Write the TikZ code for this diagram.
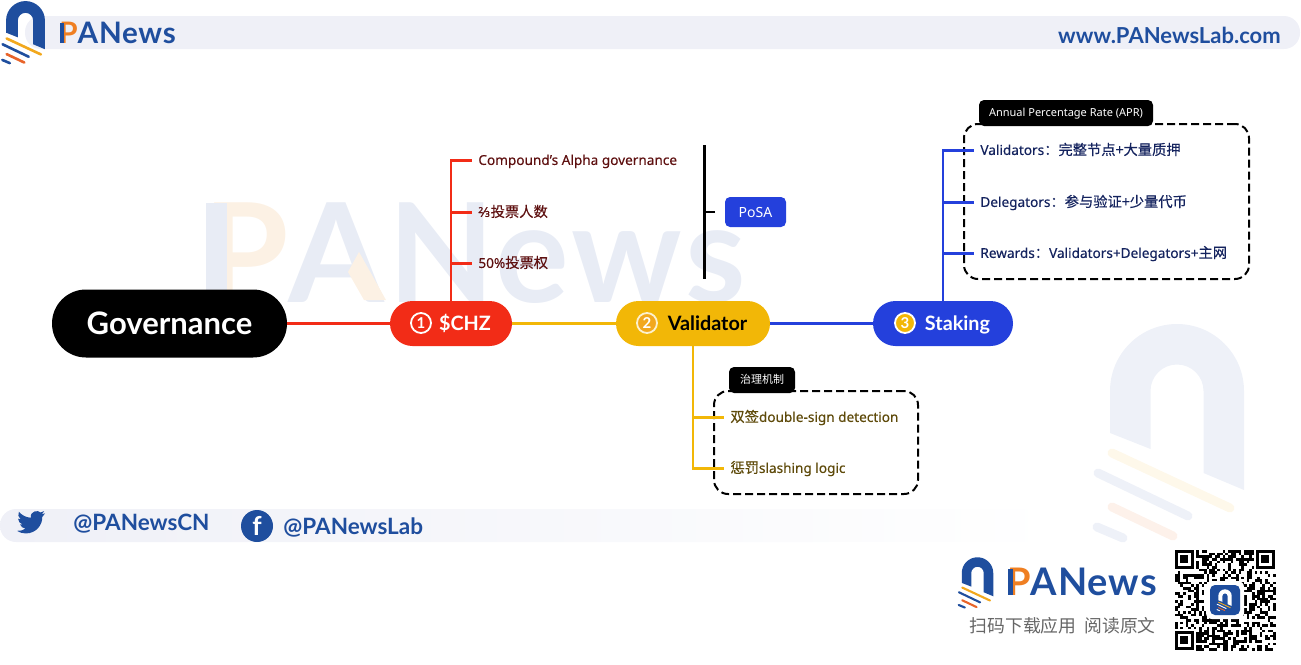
\documentclass[tikz,border=0pt]{standalone}
\usepackage{fontspec}
\setmainfont{Noto Sans}
\newfontfamily\labelfont[FakeBold=0.3]{Noto Sans}
\newfontfamily\cjkfont[FakeBold=0.3,Scale=1.05]{Noto Sans CJK SC}
\newfontfamily\cjkplain{Noto Sans CJK SC}
\newfontfamily\brandfont{Lato}
\newfontfamily\wordfont[LetterSpace=2.5]{Lato}
\usetikzlibrary{calc}
\definecolor{panblue}{HTML}{1F4E9E}
\definecolor{panorange}{HTML}{EF7F22}
\definecolor{panyellow}{HTML}{F2A81D}
\definecolor{panred}{HTML}{E8642A}
\definecolor{bandgray}{HTML}{EFF0F7}
\definecolor{markblue}{HTML}{E8ECF5}
\definecolor{markarch}{HTML}{EEF1F8}
\definecolor{markorange}{HTML}{FCF1E4}
\definecolor{markyellow}{HTML}{FEF8EA}
\definecolor{markred}{HTML}{FDF1EA}
\definecolor{chzred}{HTML}{F22C17}
\definecolor{valyellow}{HTML}{F2B707}
\definecolor{stakeblue}{HTML}{2440DC}
\definecolor{chztext}{HTML}{5E1010}
\definecolor{valtext}{HTML}{5E4A0A}
\definecolor{staketext}{HTML}{14235E}
\def\zh#1{{\cjkfont #1}}
\def\panword#1#2#3{\wordfont\fontsize{#1}{#1}\selectfont\bfseries\textcolor{#3}{P}\textcolor{#2}{ANews}}
\def\panlogo[#1:#2:#3:#4](#5,#6)(#7){
	\begin{scope}[shift={(#5,#6)},scale=#7]
		\fill[#1] (-67,42) -- (-67,0) arc (180:360:67) -- (67,99) -- (26.5,82) -- (26.5,0) arc (360:180:26.5) -- (-26.5,58) -- cycle;
		\draw[#2, line cap=round, line width=#7*4.5pt] (-65,62) -- (53,117);
		\draw[#4, line cap=round, line width=#7*4.5pt] (-79,82) -- (11,125);
		\draw[#3, line cap=round, line width=#7*4.5pt] (-65,116) -- (-4,145);
		\draw[#4, line cap=round, line width=#7*4.5pt] (-80,136) -- (-54,147);
	\end{scope}
}
\tikzset{
	mainpill/.style={minimum height=22.5pt, rounded corners=11.25pt, inner sep=0pt, text height=8pt, text depth=1pt, font=\brandfont\bfseries\fontsize{9.9}{12}\selectfont},
	numdot/.style={circle, minimum size=10pt, inner sep=0pt, line width=0.9pt, draw=white, text=white, font=\brandfont\bfseries\fontsize{7.5}{8}\selectfont},
	treelabel/.style={anchor=west, inner xsep=3pt, inner ysep=1pt, text height=5.2pt, text depth=0.8pt, font=\labelfont\fontsize{6.8}{8}\selectfont},
	dashbox/.style={draw=black, dash pattern=on 4pt off 2pt, line width=1pt, rounded corners=7pt, inner sep=0pt},
	tabbox/.style={fill=black, text=white, rounded corners=2.5pt, minimum height=13pt, inner sep=0pt, text height=4.4pt, text depth=0.8pt, font=\fontsize{5.5}{7}\selectfont},
	brandtext/.style={text=panblue, inner sep=0pt, font=\brandfont\bfseries\fontsize{11}{13}\selectfont},
}
\begin{document}
\begin{tikzpicture}[x=0.5pt, y=-0.5pt]
	%%%%% START %%%%%
	\useasboundingbox (0, 0) rectangle (1301, 664);
	
	%%%%% bands %%%%%
	\fill[bandgray, rounded corners=8pt] (25, 16) rectangle (1300, 49);
	\shade[left color=bandgray, right color=white, rounded corners=8pt] (0, 509) rectangle (1060, 542);
	
	%%%%% watermark %%%%%
	\node[anchor=west, inner sep=0pt, brandtext] (markword) at (203, 253) {\panword{69}{markblue}{markorange}};
	\fill[markblue] (206, 203) rectangle (227, 300);
	\fill[markorange] (359, 252) -- (386, 300) -- (364, 300) -- (348, 272) -- cycle;
	\panlogo[markarch:markyellow:markred:markarch](1177, 391)(1)
	
	%%%%% header %%%%%
	\fill[white] (0, 0) rectangle (45, 16);
	\panlogo[panblue:panyellow:panred:panblue](25.5, 20.5)(0.29)
	\node[anchor=west, inner sep=0pt, brandtext] (topword) at (59, 33) {\panword{14.8}{panblue}{panorange}};
	\fill[panblue] (60, 23) rectangle (64, 43);
	\node[brandtext, anchor=east] (topsite) at (1281, 35) {www.PANewsLab.com};
	
	%%%%% main line %%%%%
	\node[mainpill, fill=black, text=white, minimum width=117.5pt, minimum height=34pt, rounded corners=17pt, text height=12pt, text depth=1pt, font=\brandfont\bfseries\fontsize{15.5}{17}\selectfont] (gov) at (169.5, 323.5) {Governance};
	\node[mainpill, fill=chzred, text=white, minimum width=61pt] (chz) at (451, 323.5) {\hspace*{14pt}\$CHZ};
	\node[mainpill, fill=valyellow, text=black, minimum width=77pt] (val) at (693, 323.5) {\hspace*{14.5pt}Validator};
	\node[mainpill, fill=stakeblue, text=white, minimum width=70pt] (stake) at (943, 323.5) {\hspace*{14.5pt}Staking};
	\node[numdot] (chznum) at (421, 323) {1};
	\node[numdot, fill=panyellow, draw=white!80!valyellow] (valnum) at (647, 323) {2};
	\node[numdot, fill=valyellow] (stakenum) at (905, 323) {3};
	\draw[chzred, line width=1.5pt] (gov) -- (chz);
	\draw[valyellow, line width=1.5pt] (chz) -- (val);
	\draw[stakeblue, line width=1.5pt] (val) -- (stake);
	
	%%%%% $CHZ %%%%%
	\node[treelabel, text=chztext] (compound) at (472, 160.5) {Compound’s Alpha governance};
	\node[treelabel, text=chztext] (twothirds) at (472, 212.5) {⅔\zh{投票人数}};
	\node[treelabel, text=chztext] (fifty) at (472, 263.5) {50\%\zh{投票权}};
	\draw[chzred, line width=1.3pt] (chz.north) |- (compound.west);
	\draw[chzred, line width=1.3pt] (chz.north) |- (twothirds.west);
	\draw[chzred, line width=1.3pt] (chz.north) |- (fifty.west);
	
	%%%%% PoSA %%%%%
	\node[fill=stakeblue, text=white, rounded corners=2.5pt, minimum width=30.5pt, minimum height=15pt, inner sep=0pt, font=\fontsize{7}{8}\selectfont] (posa) at (755.5, 212) {PoSA};
	\coordinate (posatop) at (704.5, 145);
	\coordinate (posabot) at (704.5, 279);
	\coordinate (posatick) at (715, 212);
	\draw[black, line width=1.1pt] (posatop) -- (posabot);
	\draw[black, line width=1.1pt] (posatick) -- (posatick -| posatop);
	
	%%%%% Validator %%%%%
	\node[dashbox, minimum width=102pt, minimum height=51.5pt] (valbox) at (816, 442.5) {};
	\node[tabbox, minimum width=33pt] (valtab) at (762, 380) {{\cjkplain 治理机制}};
	\node[treelabel, text=valtext] (dsign) at (724, 417.5) {\zh{双签}double-sign detection};
	\node[treelabel, text=valtext] (slash) at (724, 468.5) {\zh{惩罚}slashing logic};
	\draw[valyellow, line width=1.3pt] (val.south) |- (dsign.west);
	\draw[valyellow, line width=1.3pt] (val.south) |- (slash.west);
	
	%%%%% Staking %%%%%
	\node[dashbox, minimum width=142.5pt, minimum height=77.5pt] (aprbox) at (1106.5, 201.5) {};
	\node[tabbox, minimum width=87pt] (aprtab) at (1066, 113) {Annual Percentage Rate (APR)};
	\node[treelabel, text=staketext] (validators) at (974, 150.5) {Validators\zh{：完整节点+大量质押}};
	\node[treelabel, text=staketext] (delegators) at (974, 202.5) {Delegators\zh{：参与验证+少量代币}};
	\node[treelabel, text=staketext] (rewards) at (974, 253.5) {Rewards\zh{：}Validators+Delegators+\zh{主网}};
	\draw[stakeblue, line width=1.3pt] (stake.north) |- (validators.west);
	\draw[stakeblue, line width=1.3pt] (stake.north) |- (delegators.west);
	\draw[stakeblue, line width=1.3pt] (stake.north) |- (rewards.west);
	
	%%%%% footer %%%%%
	\begin{scope}[shift={(17, 508)}, scale=1.17]
		\fill[panblue] (23.95,4.57) -- (21.13,5.35) -- (23.29,2.62) .. controls (22.3,3.2) and (21.3,3.6) .. (20.16,3.8) .. controls (18,1.4) and (11,2.6) .. (11.78,8.3) .. controls (7.7,8.1) and (4.07,6.13) .. (1.64,3.16) .. controls (0.5,5.2) and (1,8.2) .. (3.16,9.73) -- (0.93,9.12) .. controls (1,11.6) and (2.6,13.5) .. (4.88,14) -- (2.67,14.09) .. controls (3.3,16) and (5.2,17.4) .. (7.27,17.5) .. controls (5.5,18.9) and (3,19.8) .. (0,19.54) .. controls (2.2,21) and (4.8,21.75) .. (7.56,21.75) .. controls (16.6,21.75) and (21.9,14) .. (21.55,7.77) -- cycle;
	\end{scope}
	\node[brandtext, anchor=west, font=\brandfont\bfseries\fontsize{11.25}{13}\selectfont] (twname) at (73, 524) {@PANewsCN};
	\node[circle, fill=panblue, text=white, minimum size=16pt, inner sep=0pt, font=\brandfont\bfseries\fontsize{13}{13}\selectfont] (fbicon) at (257, 526) {f};
	\node[brandtext, anchor=west, font=\brandfont\bfseries\fontsize{11.25}{13}\selectfont] (fbname) at (283, 527) {@PANewsLab};
	
	%%%%% bottom right %%%%%
	\panlogo[panblue:panyellow:panred:panblue](977.5, 573)(0.235)
	\node[anchor=west, inner sep=0pt, brandtext] (botword) at (1007, 582) {\panword{19}{panblue}{panorange}};
	\fill[panblue] (1008, 569) rectangle (1013, 595);
	\node[anchor=east, inner sep=0pt, text=black!60, font=\cjkplain\fontsize{8.9}{10}\selectfont] (scantext) at (1156, 626) {扫码下载应用\hspace{4pt}阅读原文};
	
	%%%%% QR %%%%%
	\pgfmathsetseed{11}
	\foreach \qx in {0,...,37}
		\foreach \qy in {0,...,37}{
			\pgfmathrandominteger{\qbit}{0}{1}
			\ifnum\qbit=1
				\fill[black] ({1175+\qx*2.65}, {550+\qy*2.65}) rectangle ++(2.65, 2.65);
			\fi
		}
	\foreach \fx/\fy in {1175/550, 1256/550, 1175/631}{
		\fill[white] (\fx-2, \fy-2) rectangle ++(23, 23);
		\draw[black, line width=1.3pt] (\fx+1.3, \fy+1.3) rectangle ++(16, 16);
		\fill[black] (\fx+5.3, \fy+5.3) rectangle ++(8, 8);
	}
	\fill[white, rounded corners=3pt] (1206, 581) rectangle (1244, 619);
	\fill[panblue, rounded corners=2.5pt] (1210, 585) rectangle (1240, 615);
	\panlogo[white:panyellow:panred:white](1225, 596)(0.1)
	
	%%%%% END %%%%%
\end{tikzpicture}
\end{document}
